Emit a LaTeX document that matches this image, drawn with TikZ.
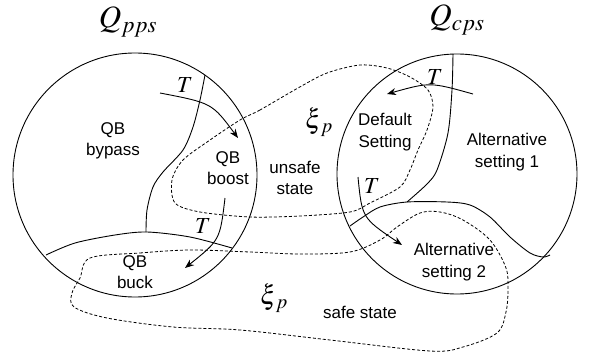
\documentclass[tikz,border=0pt]{standalone}
\usepackage{mathptmx}
\usepackage{fontspec}
\setmainfont{Liberation Sans}
\usetikzlibrary{arrows.meta}

\begin{document}
\begin{tikzpicture}[
    x=1pt, y=-1pt,
    region/.style={circle, draw, line width=0.9pt, inner sep=0pt, outer sep=0pt},
    border/.style={line width=0.9pt},
    stateset/.style={line width=0.8pt, dash pattern=on 3pt off 2pt},
    lbl/.style={align=center, font=\fontsize{17}{21.5}\selectfont},
    setname/.style={font=\fontsize{31}{36}\selectfont},
    tlbl/.style={font=\fontsize{23}{26}\selectfont},
    xilbl/.style={font=\fontsize{27}{32}\selectfont},
    trans/.style={-{Stealth[length=9pt, width=7pt]}, line width=0.9pt}
]
\useasboundingbox (0,0) rectangle (590,356);

% Physical and cyber sets
\node[region, minimum size=244pt] (pps) at (135,175) {};
\node[region, minimum size=240pt] (cps) at (457,174) {};
\node[setname] (qpps) at (128,22) {$Q_{pps}$};
\node[setname] (qcps) at (457,20) {$Q_{cps}$};

% Region borders
\draw[border] plot[smooth] coordinates {(205,75) (200,100) (193,127) (183,150) (163,172) (153,187) (147,210) (146,232)};
\draw[border] plot[smooth] coordinates {(46,255) (75,243) (115,235) (147,232) (190,237) (232,248)};
\draw[border] plot[smooth] coordinates {(453,54) (452,90) (448,133) (437,170) (427,184) (407,202)};
\draw[border] plot[smooth] coordinates {(350,226) (363,217) (380,207) (407,202) (447,202) (470,205) (490,217) (510,237) (530,253) (543,257) (550,255)};

% Unsafe and safe state sets
\draw[stateset] plot[smooth cycle] coordinates {(298,88) (260,110) (240,120) (210,140) (183,160) (172,180) (175,203) (200,212) (250,217) (300,216) (350,212) (370,203) (400,187) (410,170) (418,150) (427,130) (433,107) (428,90) (410,77) (387,68) (360,65) (327,73)};
\draw[stateset] plot[smooth cycle, tension=0.55] coordinates {(90,258) (140,253) (190,250) (250,252) (300,254) (350,252) (380,240) (397,227) (420,213) (440,212) (463,220) (490,240) (506,268) (508,290) (506,312) (497,333) (463,347) (430,351) (330,340) (240,330) (173,327) (107,318) (74,307) (72,293) (80,278)};

% Region names
\node[lbl] (bypass) at (113,141) {QB\\bypass};
\node[lbl] (boost) at (228,168) {QB\\boost};
\node[lbl] (buck) at (135,272) {QB\\buck};
\node[lbl] (default) at (385,132) {Default\\Setting};
\node[lbl] (alt1) at (507,152) {Alternative\\setting 1};
\node[lbl] (alt2) at (454,262) {Alternative\\setting 2};
\node[lbl] (unsafe) at (295,178) {unsafe\\state};
\node[lbl] (safe) at (360,312) {safe state};
\node[xilbl] (xiup) at (319,122) {$\xi_{\,p}$};
\node[xilbl] (xilow) at (274,298) {$\xi_{\,p}$};

% Transitions
\coordinate (ta) at (160,93);
\coordinate (tb) at (238,138);
\coordinate (tc) at (225,198);
\coordinate (td) at (185,268);
\coordinate (te) at (473,94);
\coordinate (tf) at (387,94);
\coordinate (tg) at (358,177);
\coordinate (th) at (402,245);
\draw[trans] (ta) .. controls (212,103) .. (tb);
\draw[trans] (tc) .. controls (220,240) .. (td);
\draw[trans] (te) .. controls (430,82) .. (tf);
\draw[trans] (tg) .. controls (362,218) .. (th);
\node[tlbl] (t1) at (185,85) {$T$};
\node[tlbl] (t2) at (203,226) {$T$};
\node[tlbl] (t3) at (435,77) {$T$};
\node[tlbl] (t4) at (372,186) {$T$};
\end{tikzpicture}
\end{document}
